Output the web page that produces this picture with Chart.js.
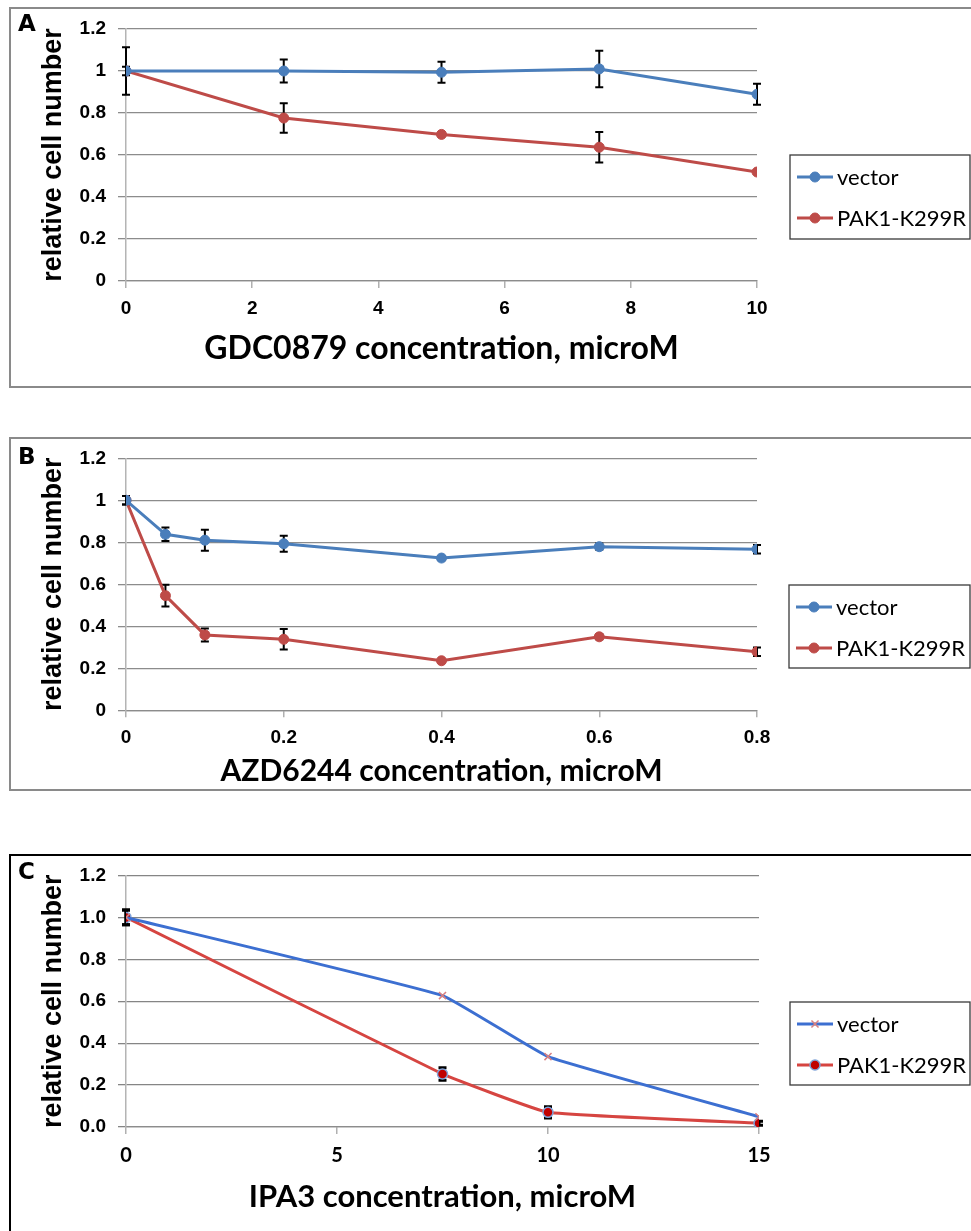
<!DOCTYPE html>
<html>
<head>
<meta charset="utf-8">
<script src="https://cdn.jsdelivr.net/npm/chart.js@4.4.0/dist/chart.umd.min.js"></script>
<style>
  body { margin: 0; background: #fff; width: 971px; height: 1231px; position: relative; overflow: hidden; }
  .frame { position: absolute; left: 9px; width: 990px; box-sizing: border-box; }
  #frameA { top: 7px; height: 381px; border: 2px solid #8a8a8a; }
  #frameB { top: 437px; height: 354px; border: 2px solid #8a8a8a; }
  #frameC { top: 854px; height: 400px; border: 2px solid #000; }
  canvas { position: absolute; left: 0; }
  .tag { position: absolute; left: 18px; font: bold 23px "DejaVu Sans", sans-serif; line-height: 23px; }
</style>
</head>
<body>
<div class="frame" id="frameA"></div>
<div class="frame" id="frameB"></div>
<div class="frame" id="frameC"></div>
<canvas id="chartA" width="971" height="390" style="top:0px"></canvas>
<canvas id="chartB" width="971" height="360" style="top:430px"></canvas>
<canvas id="chartC" width="971" height="381" style="top:850px"></canvas>
<div class="tag" style="top:12px">A</div>
<div class="tag" style="top:445px">B</div>
<div class="tag" style="top:860px">C</div>
<script>
// panel A: GDC0879
const doseA = [0, 2.5, 5, 7.5, 10];
const vectorA = [1.0, 1.0, 0.994, 1.01, 0.889];
const vectorErrA = [0.113, 0.055, 0.05, 0.087, 0.05];
const pakA = [1.0, 0.776, 0.698, 0.637, 0.519];
const pakErrA = [0.02, 0.07, 0, 0.073, 0];

// panel B: AZD6244
const doseB = [0, 0.05, 0.1, 0.2, 0.4, 0.6, 0.8];
const vectorB = [1.0, 0.838, 0.81, 0.793, 0.725, 0.779, 0.767];
const vectorErrB = [0.02, 0.032, 0.05, 0.038, 0.01, 0.015, 0.02];
const pakB = [1.0, 0.546, 0.359, 0.338, 0.236, 0.35, 0.279];
const pakErrB = [0.02, 0.052, 0.031, 0.049, 0, 0.012, 0.02];

// panel C: IPA3
const doseC = [0, 7.5, 10, 15];
const vectorC = [1.0, 0.627, 0.336, 0.049];
const vectorErrC = [0.035, 0, 0, 0];
const pakC = [1.0, 0.253, 0.07, 0.018];
const pakErrC = [0.035, 0.03, 0.027, 0.01];

const seriesNames = ["vector", "PAK1-K299R"];
const xTitles = ["GDC0879 concentration, microM", "AZD6244 concentration, microM", "IPA3 concentration, microM"];
const yTitle = "relative cell number";

function pts(xs, ys) {
  return xs.map((x, i) => ({ x: x, y: ys[i] }));
}

// error bars drawn behind the markers
const errorBars = {
  id: "errorBars",
  beforeDatasetsDraw(chart) {
    const { ctx, scales: { x, y } } = chart;
    chart.data.datasets.forEach(ds => {
      if (!ds.errors) return;
      ctx.save();
      ctx.strokeStyle = "#000";
      ctx.lineWidth = ds.errWidth || 2;
      ds.data.forEach((p, j) => {
        const e = ds.errors[j];
        if (!e) return;
        const px = x.getPixelForValue(p.x);
        const top = y.getPixelForValue(p.y + e);
        const bot = y.getPixelForValue(p.y - e);
        ctx.beginPath();
        ctx.moveTo(px, top); ctx.lineTo(px, bot);
        ctx.moveTo(px - 4, top); ctx.lineTo(px + 4, top);
        ctx.moveTo(px - 4, bot); ctx.lineTo(px + 4, bot);
        ctx.stroke();
      });
      ctx.restore();
    });
  }
};

// excel style boxed legend
const boxLegend = {
  id: "boxLegend",
  afterDraw(chart, args, opts) {
    if (!opts.box) return;
    const { ctx } = chart;
    const [bx, by, bw, bh] = opts.box;
    ctx.save();
    ctx.strokeStyle = "#3a3a3a";
    ctx.lineWidth = 1.3;
    ctx.strokeRect(bx, by, bw, bh);
    chart.data.datasets.forEach((ds, i) => {
      const ry = by + opts.rows[i];
      ctx.strokeStyle = ds.borderColor;
      ctx.lineWidth = ds.borderWidth;
      ctx.beginPath();
      ctx.moveTo(bx + 7, ry); ctx.lineTo(bx + 43, ry);
      ctx.stroke();
      ctx.fillStyle = ds.pointBackgroundColor;
      ctx.strokeStyle = ds.pointBorderColor;
      ctx.lineWidth = ds.pointBorderWidth;
      Chart.helpers.drawPoint(ctx, { pointStyle: ds.pointStyle, radius: ds.pointRadius, rotation: 0, borderWidth: ds.pointBorderWidth }, bx + 25, ry);
      ctx.fillStyle = "#000";
      ctx.font = '22px Lato';
      ctx.textBaseline = "middle";
      ctx.fillText(ds.label, bx + 47, ry + 1);
    });
    ctx.restore();
  }
};

function excelSet(label, data, errs, color, extra) {
  return Object.assign({
    label: label,
    data: data,
    errors: errs,
    borderColor: color,
    backgroundColor: color,
    borderWidth: 3,
    pointStyle: "circle",
    pointRadius: 5,
    pointBackgroundColor: color,
    pointBorderColor: color,
    pointBorderWidth: 1,
    tension: 0
  }, extra || {});
}

function makePanel(id, cfg) {
  const H = cfg.height;
  new Chart(document.getElementById(id), {
    type: "line",
    data: { datasets: cfg.datasets },
    options: {
      responsive: false,
      animation: false,
      devicePixelRatio: 1,
      layout: { padding: { top: cfg.areaTop, right: cfg.padRight, bottom: 0, left: 0 } },
      plugins: {
        legend: { display: false },
        tooltip: { enabled: false },
        boxLegend: { box: cfg.legendBox, rows: [22, 63] }
      },
      scales: {
        x: {
          type: "linear",
          min: 0,
          max: cfg.xMax,
          ticks: {
            stepSize: cfg.xStep,
            padding: cfg.xTickPad,
            color: "#000",
            font: cfg.xTickFont,
            callback: v => String(+v.toFixed(2))
          },
          grid: { drawOnChartArea: false, drawTicks: true, tickLength: 7, color: "#b0b0b0", lineWidth: 1.5 },
          border: { display: true, color: "#8c8c8c", width: 1.3 },
          title: {
            display: true,
            text: cfg.xTitle,
            color: "#000",
            font: cfg.xTitleFont,
            padding: { top: 0, bottom: H - cfg.titleY - cfg.xTitleFont.size * 0.6 }
          },
          afterFit(s) { s.height = H - cfg.areaBottom; }
        },
        y: {
          min: 0,
          max: 1.2,
          ticks: {
            stepSize: 0.2,
            padding: 12,
            color: "#000",
            font: { family: "Liberation Sans", size: 19, weight: "bold" },
            callback: cfg.yFormat
          },
          grid: { color: cfg.gridColor, lineWidth: 1.3, tickLength: 8, drawTicks: true },
          border: { display: true, color: "#b4b4b4", width: 1.5 },
          title: {
            display: true,
            text: yTitle,
            color: "#000",
            font: { family: "Liberation Sans", size: 27, weight: "bold" },
            padding: { top: 54 - 16.2, bottom: 0 }
          },
          afterFit(s) { s.width = 126; }
        }
      }
    },
    plugins: [errorBars, boxLegend]
  });
}

function build() {
  const blue = "#4a7ebb", red = "#be4b48";
  const tickFontAB = { family: "Liberation Sans", size: 19, weight: "bold" };

  makePanel("chartA", {
    height: 390, areaTop: 29, areaBottom: 281, titleY: 349, padRight: 214,
    xMax: 10, xStep: 2, xTickPad: 9, xTickFont: tickFontAB,
    xTitleFont: { family: "Lato", size: 32, weight: "bold" },
    xTitle: xTitles[0], gridColor: "#8c8c8c",
    yFormat: v => String(+v.toFixed(1)),
    legendBox: [790, 155, 180, 84],
    datasets: [
      excelSet(seriesNames[0], pts(doseA, vectorA), vectorErrA, blue),
      excelSet(seriesNames[1], pts(doseA, pakA), pakErrA, red)
    ]
  });

  makePanel("chartB", {
    height: 360, areaTop: 28.3, areaBottom: 280.3, titleY: 341, padRight: 214,
    xMax: 0.8, xStep: 0.2, xTickPad: 9, xTickFont: tickFontAB,
    xTitleFont: { family: "Lato", size: 30, weight: "bold" },
    xTitle: xTitles[1], gridColor: "#8c8c8c",
    yFormat: v => String(+v.toFixed(1)),
    legendBox: [789, 155, 181, 83],
    datasets: [
      excelSet(seriesNames[0], pts(doseB, vectorB), vectorErrB, blue),
      excelSet(seriesNames[1], pts(doseB, pakB), pakErrB, red)
    ]
  });

  makePanel("chartC", {
    height: 381, areaTop: 25.5, areaBottom: 277, titleY: 347, padRight: 212,
    xMax: 15, xStep: 5, xTickPad: 10,
    xTickFont: { family: "Lato", size: 20, weight: "bold" },
    xTitleFont: { family: "Lato", size: 31, weight: "bold" },
    xTitle: xTitles[2], gridColor: "#858585",
    yFormat: v => v.toFixed(1),
    legendBox: [790, 152, 180, 83],
    datasets: [
      excelSet(seriesNames[0], pts(doseC, vectorC), vectorErrC, "#3c6fd1", {
        pointStyle: "crossRot", pointRadius: 5, pointBackgroundColor: "#d98080",
        pointBorderColor: "#d98080", pointBorderWidth: 1.5, tension: 0.1, errWidth: 3
      }),
      excelSet(seriesNames[1], pts(doseC, pakC), pakErrC, "#d64541", {
        pointRadius: 5, pointBackgroundColor: "#c00000", pointBorderColor: "#7fa3d9",
        pointBorderWidth: 1.5, tension: 0.1, errWidth: 3
      })
    ]
  });
}

Promise.all([
  document.fonts.load('bold 32px Lato'),
  document.fonts.load('22px Lato'),
  document.fonts.load('bold 23px "DejaVu Sans"'),
  document.fonts.load('bold 27px "Liberation Sans"')
]).then(build, build);
</script>
</body>
</html>
